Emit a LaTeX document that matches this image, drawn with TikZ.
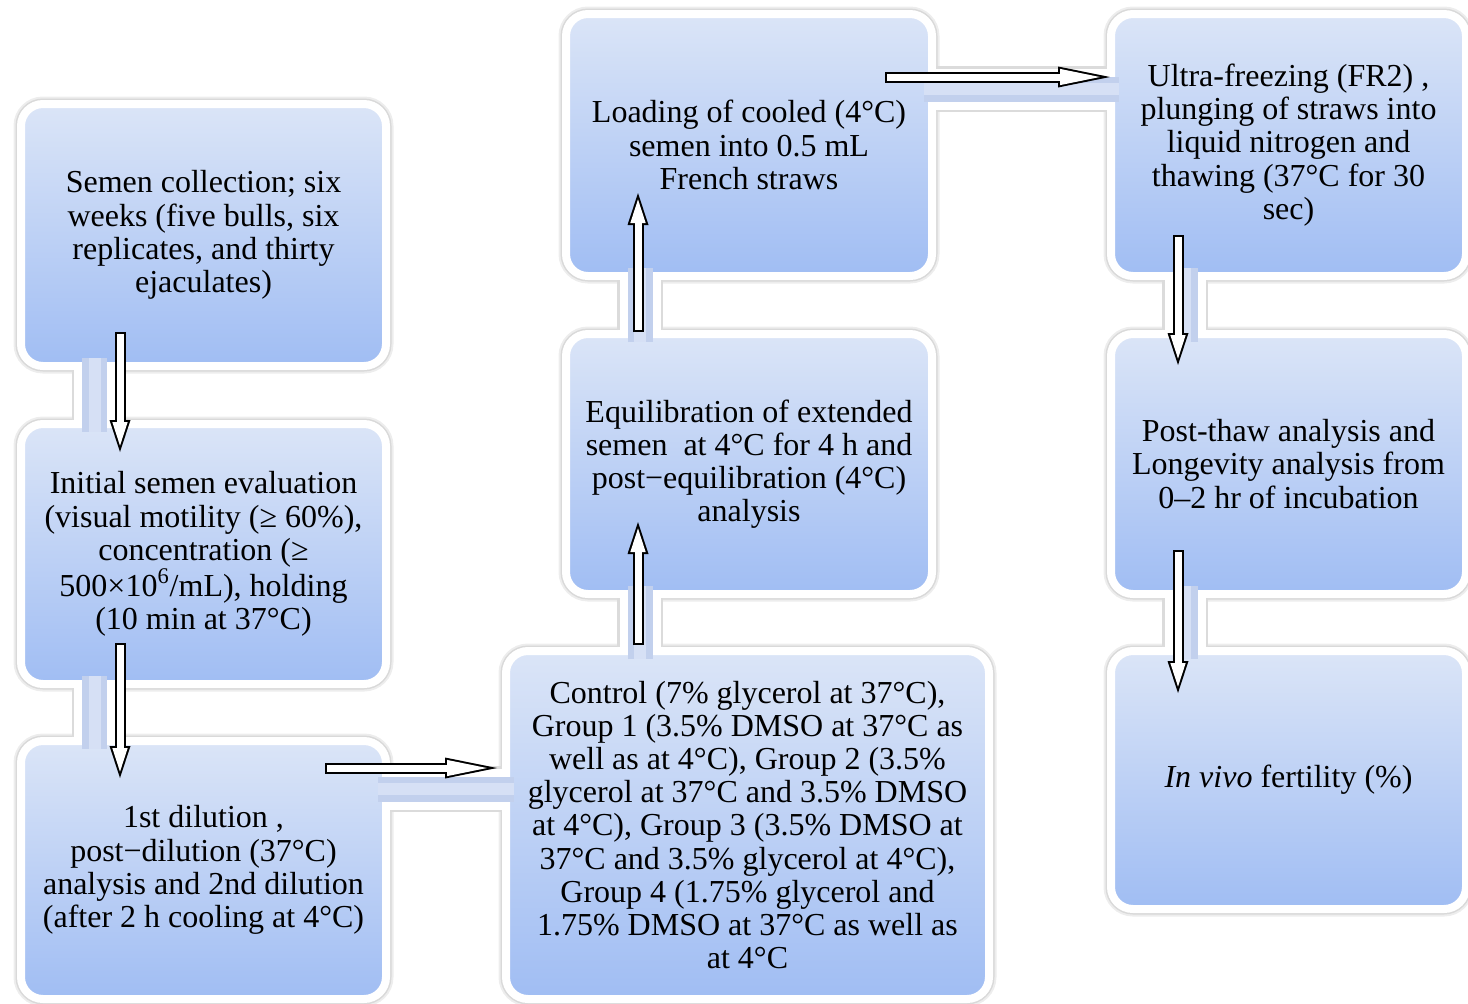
\documentclass[tikz,border=0pt]{standalone}
\usepackage{fontspec}
\setmainfont{Liberation Serif}
\usetikzlibrary{arrows.meta}
\definecolor{boxtop}{RGB}{219,229,247}
\definecolor{boxbottom}{RGB}{160,189,243}
\definecolor{linkblue}{RGB}{194,208,237}
\definecolor{linklight}{RGB}{214,224,245}
\tikzstyle{every node}=[font=\fontsize{16}{16.6}\selectfont,align=center,inner sep=0pt,outer sep=0pt]
\tikzstyle{stage}=[rounded corners=11pt,draw=white,line width=4pt,top color=boxtop,bottom color=boxbottom,
    minimum width=182.5pt,minimum height=130pt,
    preaction={draw=black!7,line width=7.5pt},preaction={draw=black!15,line width=5.5pt}]
\tikzstyle{link}=[draw=white,line width=20.5pt,
    preaction={draw=black!14,line width=23pt,shorten <=2pt,shorten >=2pt},
    postaction={draw=linkblue,line width=12.5pt,shorten <=-4pt,shorten >=-4pt},
    postaction={draw=linklight,line width=6pt,shorten <=-4pt,shorten >=-4pt}]
\tikzset{
    blockarrow/.style 2 args={draw=black,line width=5.5pt,shorten <=#1,shorten >=#2,
        -{Triangle[length=16pt,width=10.5pt,line width=0pt]},
        postaction={draw=white,line width=3.5pt,shorten <=#1+1pt,shorten >=#2+3.2pt,
            -{Triangle[length=11.8pt,width=7.7pt,line width=0pt]}}},
    longarrow/.style 2 args={draw=black,line width=5.5pt,shorten <=#1,shorten >=#2,
        -{Triangle[length=26pt,width=10.5pt,line width=0pt]},
        postaction={draw=white,line width=3.5pt,shorten <=#1+1pt,shorten >=#2+5.05pt,
            -{Triangle[length=19.9pt,width=8.1pt,line width=0pt]}}}
}

\begin{document}
\begin{tikzpicture}[x=0.5pt,y=-0.5pt]
    \useasboundingbox (0,0) rectangle (1468,1003);
    % left column
    \node[stage,minimum height=131pt] (collection) at (203.5,235)
        {Semen collection; six\\weeks (five bulls, six\\replicates, and thirty\\ejaculates)};
    \node[stage] (evaluation) at (203.5,554)
        {Initial semen evaluation\\(visual motility (≥ 60\%),\\concentration (≥\\500×10\textsuperscript{6}/mL), holding\\(10 min at 37°C)};
    \node[stage,minimum height=129pt] (dilution) at (203.5,870)
        {1st dilution ,\\post−dilution (37°C)\\analysis and 2nd dilution\\(after 2 h cooling at 4°C)};
    % middle column
    \node[stage,minimum width=241.5pt,minimum height=174pt] (groups) at (747.5,825)
        {Control (7\% glycerol at 37°C),\\Group 1 (3.5\% DMSO at 37°C as\\well as at 4°C), Group 2 (3.5\%\\glycerol at 37°C and 3.5\% DMSO\\at 4°C), Group 3 (3.5\% DMSO at\\37°C and 3.5\% glycerol at 4°C),\\Group 4 (1.75\% glycerol and\\1.75\% DMSO at 37°C as well as\\at 4°C};
    \node[stage,minimum width=183pt] (equilibration) at (749,464)
        {Equilibration of extended\\semen~ at 4°C for 4 h and\\post−equilibration (4°C)\\analysis};
    \node[stage,minimum width=183pt,minimum height=131pt] (loading) at (749,145)
        {Loading of cooled (4°C)\\semen into 0.5 mL\\French straws};
    % right column
    \node[stage,minimum width=177.5pt,minimum height=131pt] (freezing) at (1288.5,145)
        {Ultra-freezing (FR2) ,\\plunging of straws into\\liquid nitrogen and\\thawing (37°C for 30\\sec)};
    \node[stage,minimum width=177.5pt] (postthaw) at (1288.5,464)
        {Post-thaw analysis and\\Longevity analysis from\\0–2 hr of incubation};
    \node[stage,minimum width=177.5pt,minimum height=129pt] (fertility) at (1288.5,780)
        {\textit{In vivo} fertility (\%)};

    % where links and arrows run
    \coordinate (lbar) at (94.5,0);
    \coordinate (larr) at (120,0);
    \coordinate (cbar) at (0,789);
    \coordinate (carr) at (0,768);
    \coordinate (mbar) at (640,0);
    \coordinate (marr) at (638,0);
    \coordinate (tbar) at (0,89);
    \coordinate (tarr) at (0,77);
    \coordinate (rbar) at (1185,0);
    \coordinate (rarr) at (1178,0);

    \draw[link] (collection.south -| lbar) -- (evaluation.north -| lbar);
    \draw[link] (evaluation.south -| lbar) -- (dilution.north -| lbar);
    \draw[link] (dilution.east |- cbar) -- (groups.west |- cbar);
    \draw[link] (groups.north -| mbar) -- (equilibration.south -| mbar);
    \draw[link] (equilibration.north -| mbar) -- (loading.south -| mbar);
    \draw[link] (loading.east |- tbar) -- (freezing.west |- tbar);
    \draw[link] (freezing.south -| rbar) -- (postthaw.north -| rbar);
    \draw[link] (postthaw.south -| rbar) -- (fertility.north -| rbar);

    \draw[blockarrow={-17pt}{-14pt}] (collection.south -| larr) -- (evaluation.north -| larr);
    \draw[blockarrow={-20.5pt}{-18.5pt}] (evaluation.south -| larr) -- (dilution.north -| larr);
    \draw[longarrow={-30.5pt}{4.5pt}] (dilution.east |- carr) -- (groups.west |- carr);
    \draw[blockarrow={3pt}{-36pt}] (groups.north -| marr) -- (equilibration.south -| marr);
    \draw[blockarrow={1pt}{-41.5pt}] (equilibration.north -| marr) -- (loading.south -| marr);
    \draw[longarrow={-23.5pt}{0.5pt}] (loading.east |- tarr) -- (freezing.west |- tarr);
    \draw[blockarrow={-20.5pt}{-15.5pt}] (freezing.south -| rarr) -- (postthaw.north -| rarr);
    \draw[blockarrow={-22pt}{-21pt}] (postthaw.south -| rarr) -- (fertility.north -| rarr);
\end{tikzpicture}
\end{document}
